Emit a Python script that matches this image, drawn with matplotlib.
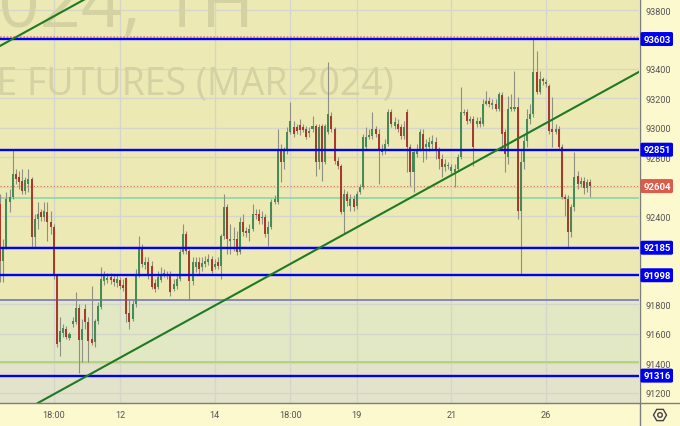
import matplotlib
matplotlib.use('Agg')
import matplotlib.pyplot as plt
from matplotlib.patches import FancyBboxPatch, RegularPolygon, Circle
from matplotlib.lines import Line2D
from matplotlib.transforms import IdentityTransform
import numpy as np

# ---------------- data (hourly candles) ----------------
opens = [92550, 92482, 92095, 92190, 92496, 92530, 92686, 92666, 92638, 92571,
         92618, 92652, 92258, 92380, 92428, 92394, 92428, 92360, 92326, 91993,
         91545, 91606, 91633, 91572, 91667, 91681, 91776, 91558, 91769, 91681,
         91565, 91545, 91687, 91783, 91959, 91966, 91986, 91973, 91946, 91966,
         91932, 91980, 91742, 91701, 91803, 92007, 92190, 92068, 92088, 92061,
         91946, 91918, 91966, 92007, 91993, 91993, 91905, 91925, 91973, 92156,
         92278, 92163, 91959, 92054, 92088, 92054, 92075, 92088, 92109, 92054,
         92088, 92061, 92265, 92462, 92231, 92238, 92244, 92156, 92360, 92299,
         92285, 92312, 92414, 92414, 92387, 92394, 92278, 92326, 92496, 92496,
         92856, 92768, 92842, 92971, 93005, 93005, 93019, 93005, 92992, 92965,
         92992, 93012, 92768, 93012, 92768, 92971, 93080, 92992, 92774, 92740,
         92428, 92550, 92469, 92516, 92469, 92564, 92598, 92870, 92937, 92944,
         92992, 92958, 92856, 92842, 92890, 93107, 93012, 93026, 93005, 92944,
         93107, 92870, 92700, 92822, 92856, 92958, 92870, 92870, 92890, 92903,
         92842, 92788, 92734, 92740, 92706, 92700, 92720, 92802, 93100, 93107,
         93046, 93060, 93026, 93046, 93026, 93162, 93182, 93155, 93162, 93128,
         93223, 92971, 92802, 93128, 93128, 93141, 92435, 92768, 92910, 93060,
         93094, 93379, 93243, 93331, 93297, 93284, 92992, 92971, 92992, 92870,
         92530, 92516, 92292, 92462, 92672, 92618, 92638, 92591, 92632]
highs = [92584, 92550, 92244, 92564, 92584, 92856, 92720, 92706, 92720, 92666,
         92720, 92666, 92414, 92496, 92448, 92496, 92496, 92435, 92346, 92007,
         91714, 91667, 91653, 91613, 91714, 91884, 91803, 91701, 91803, 91714,
         91925, 91701, 91816, 92054, 92027, 92013, 92013, 92000, 92007, 91986,
         91973, 91986, 91837, 91837, 92041, 92265, 92211, 92122, 92122, 92095,
         91973, 92027, 92054, 92041, 92027, 92027, 91973, 92007, 92176, 92346,
         92299, 92176, 92122, 92122, 92122, 92122, 92129, 92142, 92129, 92109,
         92122, 92278, 92550, 92482, 92346, 92326, 92299, 92394, 92414, 92326,
         92346, 92482, 92448, 92448, 92435, 92414, 92367, 92516, 92543, 92992,
         92890, 92870, 93005, 93175, 93046, 93026, 93060, 93026, 93012, 93005,
         93080, 93026, 93026, 93026, 93026, 93447, 93107, 93005, 92802, 92754,
         92584, 92571, 92550, 92543, 92571, 92618, 92958, 93005, 92992, 93107,
         93012, 92992, 92890, 92924, 93128, 93128, 93073, 93060, 93026, 93046,
         93128, 92890, 92856, 92890, 92992, 92992, 92924, 92937, 92951, 92937,
         92870, 92822, 92788, 92768, 92754, 92754, 92822, 93277, 93128, 93128,
         93080, 93080, 93073, 93073, 93196, 93250, 93209, 93196, 93196, 93243,
         93243, 92992, 93216, 93230, 93386, 93209, 92856, 92958, 93128, 93162,
         93603, 93522, 93386, 93345, 93331, 93297, 93209, 93026, 93012, 92890,
         92550, 92543, 92482, 92836, 92706, 92666, 92666, 92652, 92652]
lows = [92448, 91952, 91952, 92176, 92428, 92516, 92618, 92584, 92550, 92550,
        92564, 92190, 92190, 92312, 92367, 92367, 92231, 92278, 91973, 91511,
        91450, 91579, 91565, 91558, 91647, 91667, 91334, 91409, 91633, 91409,
        91524, 91511, 91667, 91769, 91932, 91946, 91939, 91925, 91918, 91905,
        91891, 91681, 91633, 91687, 91783, 91986, 92054, 92041, 91973, 91905,
        91884, 91905, 91952, 91986, 91973, 91857, 91891, 91905, 91959, 92142,
        92142, 91837, 91932, 92020, 92007, 92027, 92054, 92068, 92013, 92041,
        92041, 91973, 92244, 92142, 92142, 92163, 92136, 92142, 92265, 92258,
        92231, 92299, 92380, 92346, 92346, 92258, 92197, 92312, 92482, 92482,
        92632, 92720, 92822, 92958, 92937, 92958, 92951, 92971, 92924, 92937,
        92971, 92672, 92720, 92638, 92754, 92958, 92971, 92754, 92720, 92414,
        92278, 92469, 92435, 92435, 92448, 92550, 92584, 92856, 92924, 92924,
        92937, 92618, 92815, 92822, 92876, 93005, 92992, 92971, 92924, 92924,
        92700, 92605, 92564, 92802, 92842, 92768, 92788, 92842, 92856, 92788,
        92720, 92666, 92706, 92720, 92686, 92598, 92706, 92788, 93087, 93026,
        93033, 92740, 93005, 93005, 93012, 93155, 93141, 93128, 93114, 93114,
        92856, 92700, 92754, 93114, 93114, 92380, 91998, 92720, 92870, 93026,
        93073, 93230, 93230, 93291, 93277, 92958, 92870, 92958, 92856, 92516,
        92401, 92190, 92258, 92435, 92584, 92598, 92550, 92564, 92530]
closes = [92482, 92095, 92190, 92516, 92530, 92686, 92652, 92632, 92571, 92645,
          92652, 92258, 92380, 92414, 92394, 92435, 92360, 92326, 91993, 91531,
          91619, 91640, 91579, 91599, 91687, 91776, 91558, 91633, 91681, 91551,
          91538, 91687, 91789, 91973, 91993, 91980, 91966, 91952, 91973, 91925,
          91912, 91735, 91681, 91803, 92007, 92190, 92075, 92088, 92007, 91918,
          91905, 91986, 92007, 92013, 92000, 91884, 91939, 91973, 92156, 92278,
          92163, 91959, 92088, 92088, 92041, 92081, 92095, 92109, 92027, 92075,
          92061, 92265, 92462, 92244, 92244, 92244, 92156, 92360, 92292, 92285,
          92312, 92414, 92408, 92367, 92394, 92278, 92326, 92496, 92516, 92842,
          92768, 92842, 92971, 93046, 92958, 92978, 92985, 92985, 92937, 92978,
          93012, 92768, 93005, 92768, 93012, 93094, 92992, 92774, 92740, 92428,
          92550, 92503, 92516, 92462, 92550, 92598, 92937, 92937, 92951, 92992,
          92958, 92842, 92836, 92890, 93107, 93026, 93039, 92992, 92944, 93005,
          92870, 92700, 92836, 92856, 92971, 92842, 92890, 92903, 92910, 92856,
          92788, 92734, 92754, 92747, 92734, 92720, 92802, 93107, 93107, 93046,
          93060, 92870, 93046, 93026, 93162, 93182, 93162, 93168, 93128, 93230,
          92958, 92822, 93128, 93141, 93141, 92435, 92768, 92910, 93060, 93094,
          93379, 93243, 93331, 93318, 93311, 92978, 92971, 92992, 92870, 92530,
          92516, 92292, 92462, 92666, 92618, 92638, 92591, 92632, 92604]

levels = [93603, 92851, 92185, 91998, 91316]
last_price = 92604
zone_top = 91830        # purple line / top of green band
zone_bottom = 91410     # light green line
mint_line = 92521
upper_dotted = 93620
price_ticks = list(range(91200, 93801, 200))
time_labels = ['18:00', '12', '14', '18:00', '19', '21', '26']
time_label_idx = [18, 39, 69, 93, 114, 144, 174]
trend_p1 = (32.7, 91363)
trend_p2 = (191.1, 93234)
upper_trend_p = (0.98, 93556)

# ---------------- figure ----------------
W, H = 680, 427
fig = plt.figure(figsize=(W / 100, H / 100), dpi=100)
fig.patch.set_facecolor('#FDF9CE')
ax = fig.add_axes([0, 23 / H, 639 / W, 404 / H])
ax.set_facecolor('none')
ymin, ymax = 91130, 93875
ax.set_xlim(0.98, 203.45)
ax.set_ylim(ymin, ymax)

# background zones
ax.axhspan(zone_top, ymax, color='#ECE9B4', zorder=0, lw=0)
ax.axhspan(zone_bottom, zone_top, color='#E1E8C3', zorder=0, lw=0)
ax.axhspan(ymin, zone_bottom, color='#E3E2CA', zorder=0, lw=0)

# grid
for p in price_ticks:
    ax.axhline(p, color='#D5D6CA', lw=0.9, zorder=0.5)
for i in time_label_idx:
    ax.axvline(i, color='#D5D6CA', lw=0.9, zorder=0.5)

# watermark
ax.text(254 / 639, 1 - 27 / 404, 'SIH2024, 1H', transform=ax.transAxes,
        ha='right', va='baseline', fontsize=52, family=['Open Sans', 'DejaVu Sans'],
        color='#D4D1A2', zorder=0.7, clip_on=True)
ax.text(394 / 639, 1 - 95 / 404, 'RATE FUTURES (MAR 2024)', transform=ax.transAxes,
        ha='right', va='baseline', fontsize=27, family=['Open Sans', 'DejaVu Sans'],
        color='#D4D1A2', zorder=0.7, clip_on=True)

# reference lines under candles
ax.axhline(zone_top, color='#7E7EC2', lw=1.3, zorder=1)
ax.axhline(zone_bottom, color='#A8CF6C', lw=1.1, zorder=1)
ax.axhline(mint_line, color='#86D3A6', lw=1.1, zorder=1)
ax.axhline(last_price, color='#E0705C', lw=0.8, ls=(0, (1, 2)), zorder=1)

# candles
o = np.array(opens, float); c = np.array(closes, float)
h = np.array(highs, float); l = np.array(lows, float)
x = np.arange(len(o))
up = c >= o
ax.vlines(x, l, h, color='#8F8F84', lw=0.8, zorder=2)
bottom = np.minimum(o, c)
height = np.maximum(np.abs(c - o), 7)
ax.bar(x[up], height[up], bottom=bottom[up], width=0.64, color='#468A57', zorder=3, lw=0)
ax.bar(x[~up], height[~up], bottom=bottom[~up], width=0.64, color='#A8392D', zorder=3, lw=0)

# drawings on top
ax.axhline(upper_dotted, color='#E8846C', lw=1.2, ls=(0, (1, 1)), zorder=4)
for lv in levels:
    ax.axhline(lv, color='#0000F5', lw=1.7, zorder=5)
ax.axline(trend_p1, trend_p2, color='#1F7A22', lw=1.5, zorder=6)
slope = (trend_p2[1] - trend_p1[1]) / (trend_p2[0] - trend_p1[0])
ax.axline(upper_trend_p, slope=slope, color='#1F7A22', lw=1.5, zorder=6)

# axes styling
for s in ['top', 'left', 'right', 'bottom']:
    ax.spines[s].set_visible(False)
ax.yaxis.tick_right()
ax.set_yticks(price_ticks)
# labels hidden behind the level boxes are left blank
ax.set_yticklabels(['' if min(abs(p - v) for v in levels + [last_price]) < 30 else str(p)
                    for p in price_ticks])
ax.set_xticks(time_label_idx)
ax.set_xticklabels(time_labels)
ax.tick_params(axis='y', length=0, pad=5, labelsize=6.6, labelcolor='#555555')
ax.tick_params(axis='x', length=0, pad=5, labelsize=6.6, labelcolor='#555555')
for t in ax.get_yticklabels() + ax.get_xticklabels():
    t.set_family(['Roboto', 'DejaVu Sans'])

# frame lines (extend into the margins)
fig.add_artist(Line2D([0, 1], [23 / H, 23 / H], transform=fig.transFigure,
                      color='#7D7D7D', lw=1.0))
fig.add_artist(Line2D([639.5 / W, 639.5 / W], [0, 1], transform=fig.transFigure,
                      color='#7D7D7D', lw=1.0))

# price boxes on the right axis
fig.canvas.draw()
inv = fig.transFigure.inverted()

def fig_y(price):
    disp = ax.transData.transform((1, price))
    return inv.transform(disp)[1]

def price_box(price, text, color):
    yc = fig_y(price)
    bh = 14 / H
    box = FancyBboxPatch((640.5 / W, yc - bh / 2), 32.5 / W, bh,
                         boxstyle='round,pad=0,rounding_size=0.003',
                         transform=fig.transFigure, facecolor=color,
                         edgecolor='none', zorder=10)
    fig.add_artist(box)
    fig.text(657 / W, yc, text, ha='center', va='center', color='white',
             fontsize=6.8, fontweight='bold', family=['Roboto', 'DejaVu Sans'],
             zorder=11)

for lv in levels:
    price_box(lv, str(lv), '#0000F0')
price_box(last_price, str(last_price), '#DB5C4A')

# settings icon (pixel coordinates, origin bottom-left)
fig.add_artist(RegularPolygon((660, 11), 6, radius=6.5, orientation=np.pi / 6,
                              transform=IdentityTransform(),
                              facecolor='none', edgecolor='#444444', lw=1.0, zorder=12))
fig.add_artist(Circle((660, 11), 2.3, transform=IdentityTransform(),
                      facecolor='none', edgecolor='#444444', lw=1.0, zorder=12))
fig.savefig('out.png', dpi=100, facecolor=fig.get_facecolor())
